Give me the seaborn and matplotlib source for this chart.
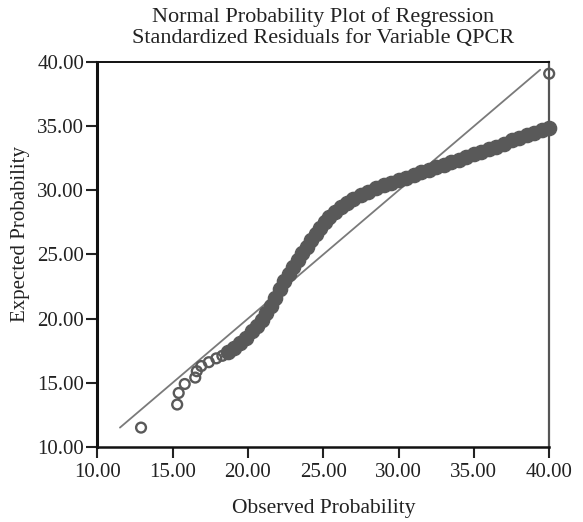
import matplotlib
matplotlib.use("Agg")
import matplotlib.pyplot as plt
import seaborn as sns
import pandas as pd
from matplotlib.ticker import FormatStrFormatter

# Sparse (individually visible) points
sparse_obs = [12.9, 15.3, 15.4, 15.8, 16.5, 16.6, 16.9, 17.4, 17.9, 18.3, 40.0]
sparse_exp = [11.5, 13.3, 14.2, 14.9, 15.4, 15.9, 16.3, 16.6, 16.9, 17.1, 39.1]

# Dense band of points
dense_obs = [18.7, 19.1, 19.5, 19.9, 20.3, 20.6, 20.9, 21.2, 21.5, 21.8, 22.1, 22.4,
             22.7, 23.0, 23.3, 23.6, 23.9, 24.2, 24.5, 24.8, 25.1, 25.4, 25.8, 26.2,
             26.6, 27.0, 27.5, 28.0, 28.5, 29.0, 29.5, 30.0, 30.5, 31.0, 31.5, 32.0,
             32.5, 33.0, 33.5, 34.0, 34.5, 35.0, 35.5, 36.0, 36.5, 37.0, 37.5, 38.0,
             38.5, 39.0, 39.5, 40.0]
dense_exp = [17.4, 17.7, 18.1, 18.5, 19.0, 19.4, 19.9, 20.4, 21.0, 21.6, 22.3, 22.9,
             23.5, 24.0, 24.6, 25.1, 25.6, 26.1, 26.6, 27.1, 27.5, 27.9, 28.3, 28.7,
             29.0, 29.3, 29.6, 29.9, 30.2, 30.4, 30.6, 30.8, 31.0, 31.2, 31.4, 31.6,
             31.8, 32.0, 32.2, 32.4, 32.6, 32.8, 33.0, 33.2, 33.4, 33.6, 33.9, 34.1,
             34.3, 34.5, 34.7, 34.9]

# Reference line endpoints
ref_line = [11.5, 39.4]

ticks = [10, 15, 20, 25, 30, 35, 40]

sns.set_style("ticks")
plt.rcParams['font.family'] = ['Liberation Serif', 'DejaVu Serif']

fig = plt.figure(figsize=(5.83, 5.22), dpi=100)
ax = fig.add_axes([0.167, 0.144, 0.775, 0.737])

sns.lineplot(x=ref_line, y=ref_line, ax=ax, color="#7a7a7a", linewidth=1.3, zorder=2)

dense_df = pd.DataFrame({"obs": dense_obs, "exp": dense_exp})
sns.scatterplot(data=dense_df, x="obs", y="exp", ax=ax, s=105, color="#595959",
                edgecolor="#595959", linewidth=1.0, zorder=3, clip_on=False)

sparse_df = pd.DataFrame({"obs": sparse_obs, "exp": sparse_exp})
sns.scatterplot(data=sparse_df, x="obs", y="exp", ax=ax, s=50, facecolor="none",
                edgecolor="#595959", linewidth=1.7, zorder=4, clip_on=False)

ax.set_xlim(10, 40)
ax.set_ylim(10, 40)
ax.set_xticks(ticks)
ax.set_yticks(ticks)
ax.xaxis.set_major_formatter(FormatStrFormatter("%.2f"))
ax.yaxis.set_major_formatter(FormatStrFormatter("%.2f"))
ax.tick_params(axis="x", direction="out", length=8, width=1.5, labelsize=15, pad=4, colors="#222222")
ax.tick_params(axis="y", direction="out", length=8, width=1.5, labelsize=15, pad=1.5, colors="#222222")

for side in ["left", "bottom", "top"]:
    ax.spines[side].set_visible(True)
    ax.spines[side].set_color("#111111")
ax.spines["left"].set_linewidth(2.2)
ax.spines["bottom"].set_linewidth(1.8)
ax.spines["top"].set_linewidth(1.4)
ax.spines["right"].set_visible(True)
ax.spines["right"].set_color("#555555")
ax.spines["right"].set_linewidth(1.6)

ax.set_xlabel("Observed Probability", fontsize=15.5, color="#222222")
ax.set_ylabel("Expected Probability", fontsize=15, color="#222222")
ax.xaxis.set_label_coords(0.5, -0.135)
ax.yaxis.set_label_coords(-0.150, 0.553)

fig.text(0.554, 0.948, "Normal Probability Plot of Regression\nStandardized Residuals for Variable QPCR",
         ha="center", va="center", fontsize=16, color="#222222", linespacing=1.15)

fig.savefig("out.png", dpi=100)
